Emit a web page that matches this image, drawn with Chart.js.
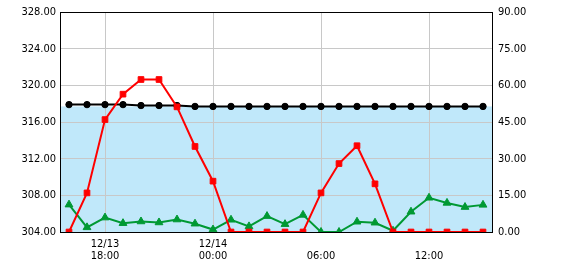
<!DOCTYPE html>
<html><head><meta charset="utf-8">
<script src="https://cdn.jsdelivr.net/npm/chart.js@4.4.1/dist/chart.umd.min.js"></script>
<style>html,body{margin:0;padding:0;background:#fff;}canvas{display:block;}</style>
</head><body>
<canvas id="c" width="570" height="270"></canvas>
<script>
// hourly categories, 12/13 16:00 .. 12/14 15:00
const categories = ['16:00','17:00','18:00','19:00','20:00','21:00','22:00','23:00',
  '00:00','01:00','02:00','03:00','04:00','05:00','06:00','07:00',
  '08:00','09:00','10:00','11:00','12:00','13:00','14:00','15:00'];
const xTickLabels = [null,null,['12/13','18:00'],null,null,null,null,null,
  ['12/14','00:00'],null,null,null,null,null,['','06:00'],null,
  null,null,null,null,['','12:00'],null,null,null];
// left axis (level)
const levelSeries = [317.9,317.9,317.9,317.9,317.8,317.8,317.8,317.7,
  317.7,317.7,317.7,317.7,317.7,317.7,317.7,317.7,
  317.7,317.7,317.7,317.7,317.7,317.7,317.7,317.7];
const bandLevel = 317.7;
// right axis
const redSeries = [0,16,46,56.4,62.4,62.4,51.2,35,
  20.8,0,0,0,0,0,16,28,
  35.3,19.7,0,0,0,0,0,0];
const greenSeries = [11.2,1.9,5.9,3.6,4.3,3.9,5.1,3.4,
  1.0,5.0,2.3,6.5,3.2,7.0,0,0,
  4.2,3.8,0.5,8.3,14.0,11.9,10.2,11.1];
const leftTicks = {min:304, max:328, step:4};
const rightTicks = {min:0, max:90, step:15};

const FONT = {family:'"DejaVu Sans Condensed","Liberation Sans Narrow","DejaVu Sans Mono",monospace', size:11, lineHeight:1.1};

const bandPlugin = {
  id:'band',
  beforeDraw(chart){
    const {ctx, chartArea:a, scales} = chart;
    const y = scales.y.getPixelForValue(bandLevel);
    ctx.save();
    ctx.fillStyle = '#c0e8fa';
    ctx.fillRect(a.left, y, a.right - a.left, a.bottom - y);
    ctx.restore();
  }
};

new Chart(document.getElementById('c'), {
  data:{
    labels: categories,
    datasets:[
      {type:'line', data:levelSeries, yAxisID:'y', borderColor:'#000', backgroundColor:'#000',
        borderWidth:2, pointStyle:'circle', pointRadius:3.2, pointBorderWidth:1, order:3, clip:0},
      {type:'line', data:greenSeries, yAxisID:'y1', borderColor:'#009933', backgroundColor:'#009933',
        borderWidth:2, pointStyle:'triangle', pointRadius:4.5, pointBorderWidth:1, order:2, clip:0},
      {type:'line', data:redSeries, yAxisID:'y1', borderColor:'#ff0000', backgroundColor:'#ff0000',
        borderWidth:2, pointStyle:'rect', pointRadius:4, pointBorderWidth:1, order:1, clip:0}
    ]
  },
  options:{
    responsive:false, devicePixelRatio:1, animation:false,
    layout:{padding:{top:10,left:0,right:0,bottom:0}},
    plugins:{legend:{display:false}, tooltip:{enabled:false}},
    elements:{line:{tension:0}},
    scales:{
      x:{type:'category', offset:true,
        afterFit(s){ s.height = 38; },
        grid:{offset:false, drawTicks:false, color:(c)=> (c.index!==undefined && xTickLabels[c.index]) ? '#c8c8c8' : 'rgba(0,0,0,0)'},
        border:{display:true, color:'#000', width:1},
        ticks:{autoSkip:false, maxRotation:0, padding:6, color:'#000', font:FONT,
          callback:(v,i)=> xTickLabels[i] || ''}
      },
      y:{type:'linear', position:'left', min:leftTicks.min, max:leftTicks.max,
        afterFit(s){ s.width = 60; },
        grid:{drawTicks:false, color:(c)=> c.tick && c.tick.value===leftTicks.max ? '#000' : '#c8c8c8'},
        border:{display:true, color:'#000', width:1},
        ticks:{stepSize:leftTicks.step, padding:4, color:'#000', font:FONT, callback:(v)=>Number(v).toFixed(2)}
      },
      y1:{type:'linear', position:'right', min:rightTicks.min, max:rightTicks.max,
        afterFit(s){ s.width = 78; },
        grid:{display:false, drawTicks:false},
        border:{display:true, color:'#000', width:1},
        ticks:{stepSize:rightTicks.step, padding:6, color:'#000', font:FONT, callback:(v)=>Number(v).toFixed(2)}
      }
    }
  },
  plugins:[bandPlugin]
});
</script>
</body></html>
